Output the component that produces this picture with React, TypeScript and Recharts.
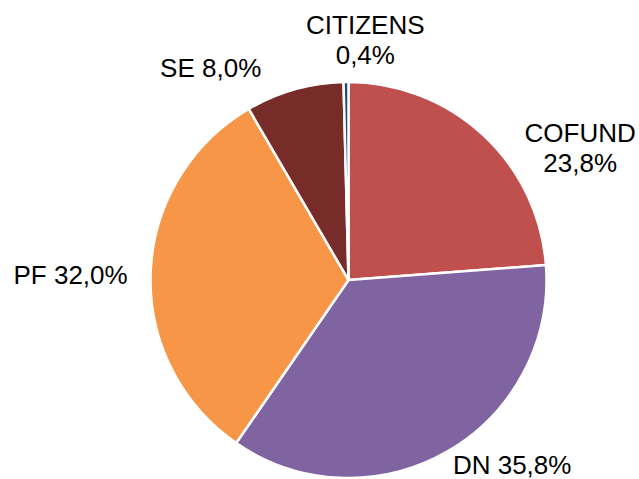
import { PieChart, Pie, Cell } from 'recharts'

const NAMES = ['COFUND', 'DN', 'PF', 'SE', 'CITIZENS']
const VALUES = [23.8, 35.8, 32.0, 8.0, 0.4]
const LABELS = [['COFUND', '23,8%'], ['DN 35,8%'], ['PF 32,0%'], ['SE 8,0%'], ['CITIZENS', '0,4%']]

const COLORS = ['#C0504D', '#8064A2', '#F79646', '#772C2A', '#1F497D']
// where each label block sits: polar angle (deg) and distance from the centre
const LABEL_POS: Record<string, [number, number]> = {
    COFUND: [29.8, 267],
    DN: [-48.5, 247],
    PF: [178.8, 278],
    SE: [123, 253],
    CITIZENS: [86, 241],
}

const data = NAMES.map((name, i) => ({ name, value: VALUES[i], lines: LABELS[i] }))

const FONT = '"Liberation Sans", Arial, sans-serif'
const FONT_SIZE = 26
const LINE_H = 30

const renderLabel = (props: any) => {
    const { cx, cy, index } = props
    const item = data[index]
    const [ang, dist] = LABEL_POS[item.name]
    const rad = (ang * Math.PI) / 180
    const x = cx + dist * Math.cos(rad)
    const yc = cy - dist * Math.sin(rad)
    const n = item.lines.length
    const y0 = yc - ((n - 1) * LINE_H) / 2 + FONT_SIZE * 0.36
    return (
        <text
            key={item.name}
            x={x}
            y={y0}
            textAnchor="middle"
            fill="#000"
            fontFamily={FONT}
            fontSize={FONT_SIZE}
        >
            {item.lines.map((l, i) => (
                <tspan key={i} x={x} dy={i === 0 ? 0 : LINE_H}>
                    {l}
                </tspan>
            ))}
        </text>
    )
}

export default function App() {
    return (
        <div style={{ position: 'absolute', left: 0, top: 0, width: 639, height: 479, background: '#fff' }}>
            <PieChart width={639} height={479} margin={{ top: 0, right: 0, bottom: 0, left: 0 }}>
                <Pie
                    data={data}
                    dataKey="value"
                    nameKey="name"
                    cx={348.5}
                    cy={280}
                    outerRadius={198}
                    startAngle={90}
                    endAngle={-270}
                    stroke="#fff"
                    strokeWidth={2.5}
                    label={renderLabel}
                    labelLine={false}
                    isAnimationActive={false}
                >
                    {data.map((d, i) => (
                        <Cell key={d.name} fill={COLORS[i]} />
                    ))}
                </Pie>
            </PieChart>
        </div>
    )
}
